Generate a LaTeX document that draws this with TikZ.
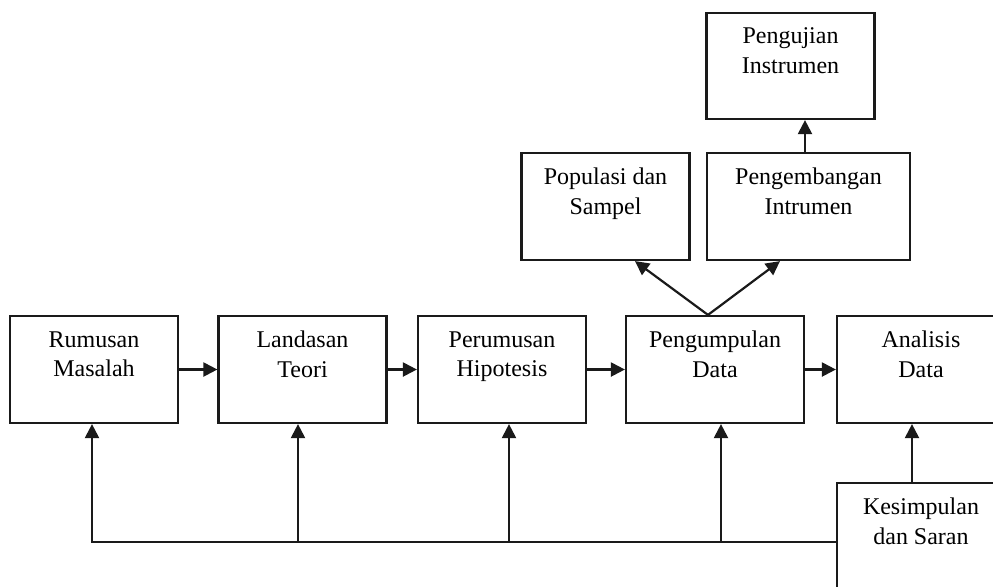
\documentclass[tikz,border=0pt]{standalone}
\usepackage{fontspec}
\setmainfont{Liberation Serif}
\usetikzlibrary{arrows.meta,positioning,calc}
\definecolor{mLine}{HTML}{1A1A1A}
\tikzset{
  >={Triangle[length=7pt,width=7pt]},
  stagebox/.style={rectangle,draw=mLine,line width=1.1pt,align=center,inner sep=0pt,
    minimum width=84pt,minimum height=53.5pt,text depth=15.5pt,
    font=\fontsize{12}{14.8}\selectfont},
  flow/.style={->,line width=1.1pt,mLine},
}

\begin{document}
\begin{tikzpicture}[x=0.5pt,y=-0.5pt]
  \useasboundingbox (0,0) rectangle (993,586);
  \clip (0,0) rectangle (993,586);
  % main row
  \node[stagebox] (rm) at (94,369.5)  {Rumusan\\Masalah};
  \node[stagebox] (lt) at (302.5,369.5) {Landasan\\Teori};
  \node[stagebox] (ph) at (502,369.5) {Perumusan\\Hipotesis};
  \node[stagebox,minimum width=89pt] (pd) at (715,369.5) {Pengumpulan\\Data};
  \node[stagebox] (ad) at (921,369.5) {Analisis\\Data};
  % upper branch
  \node[stagebox] (pp) at (605.5,206.5) {Populasi dan\\Sampel};
  \node[stagebox,minimum width=101.5pt] (pe) at (808.5,206.5) {Pengembangan\\Intrumen};
  \node[stagebox,minimum height=53pt] (pj) at (790.5,66) {Pengujian\\Instrumen};
  % feedback
  \node[stagebox] (ks) at (921,536.5) {Kesimpulan\\dan Saran};

  \draw[flow] (rm) -- (lt);
  \draw[flow] (lt) -- (ph);
  \draw[flow] (ph) -- (pd);
  \draw[flow] (pd) -- (ad);

  \coordinate (apex) at ([xshift=-3.5pt]pd.north);
  \draw[flow] (apex) -- ([xshift=14.75pt]pp.south);
  \draw[flow] (apex) -- ([xshift=-14.25pt]pe.south);
  \draw[flow] ([xshift=-1.75pt]pe.north) -- ([xshift=-1.75pt]pe.north |- pj.south);

  \draw[flow] ([xshift=-4.5pt]ks.north) -- ([xshift=-4.5pt]ad.south);
  \coordinate (bus) at ([yshift=-2.75pt]ks.west);
  \draw[flow] (bus) -| ([xshift=-1pt]rm.south);
  \foreach \n/\dx in {lt/-2.25pt,ph/3.5pt,pd/3pt}
    \draw[flow] ([xshift=\dx]\n.south |- bus) -- ([xshift=\dx]\n.south);
\end{tikzpicture}
\end{document}
